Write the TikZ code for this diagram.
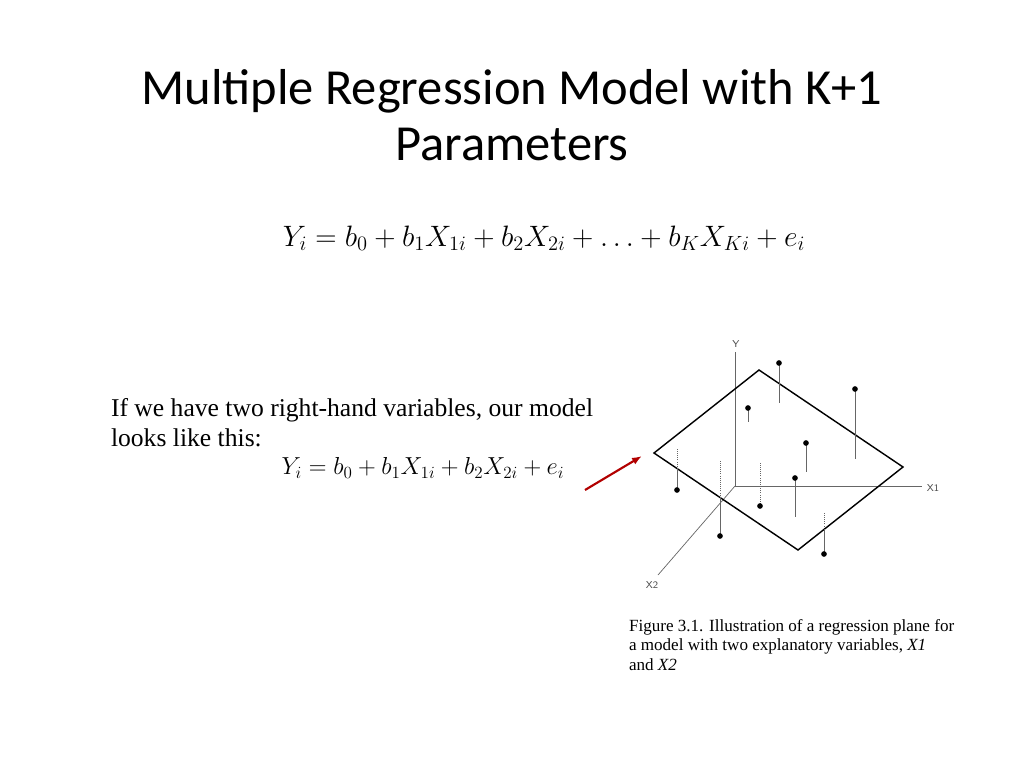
\documentclass[tikz,border=0pt]{standalone}
\usepackage{fontspec}
\setmainfont{Liberation Serif}
\newfontfamily\titlefont{Carlito}
\usepackage{amsmath}
\usetikzlibrary{arrows.meta}

\tikzset{
  stem/.style={draw=black!60, line width=0.5pt},
  hidden/.style={draw=black!60, line width=0.5pt, densely dotted},
  obs/.style={circle, fill=black, inner sep=0pt, minimum size=4pt},
  axislabel/.style={font=\sffamily\fontsize{7}{8}\selectfont, text=black!70}
}

\begin{document}
\begin{tikzpicture}[x=0.703pt, y=-0.703pt]
            \useasboundingbox (0,0) rectangle (1024,768);

            % Title and equations
            \node[align=center, font=\titlefont\fontsize{35.5}{39}\selectfont] (title) at (512,115)
              {Multiple Regression Model with K+1\\Parameters};
            \node[font=\fontsize{21.5}{25}\selectfont] (eqk) at (544,238)
              {$Y_i = b_0 + b_1 X_{1i} + b_2 X_{2i} + \ldots + b_K X_{Ki} + e_i$};
            \node[anchor=west, align=left, font=\fontsize{18}{21}\selectfont] (txt) at (106,423)
              {If we have two right-hand variables, our model\\looks like this:};
            \node[font=\fontsize{17.5}{21}\selectfont] (eq2) at (423,468)
              {$Y_i = b_0 + b_1 X_{1i} + b_2 X_{2i} + e_i$};
            \node[anchor=north west, align=left, font=\fontsize{12}{14}\selectfont] (cap) at (624,614)
              {Figure 3.1. Illustration of a regression plane for\\a model with two explanatory variables, \textit{X1}\\and \textit{X2}};

            % Axes
            \coordinate (o) at (735,486);
            \coordinate (ytip) at (735,352);
            \coordinate (x1tip) at (922,486);
            \coordinate (x2tip) at (658,575);
            \draw[black!60, line width=0.5pt] (o) -- (ytip);
            \draw[black!60, line width=0.5pt] (o) -- (x1tip);
            \draw[black!60, line width=0.5pt] (o) -- (x2tip);
            \node[axislabel] (ylab) at (736,344) {Y};
            \node[axislabel] (x1lab) at (933,488) {X1};
            \node[axislabel] (x2lab) at (652,585) {X2};

            % Observations under the plane
            \draw[hidden] (677,490) -- (677,448);
            \draw[hidden] (720,536) -- (720,460);
            \draw[hidden] (760,506) -- (760,463);
            \draw[hidden] (824,554) -- (824,513);

            % The plane
            \draw[black, line width=1pt] (654,453) -- (759,370) -- (903,467) -- (798,550) -- cycle;

            % Stems
            \draw[stem] (677,490) -- (677,468);
            \draw[stem] (720,536) -- (720,497);
            \draw[stem] (824,554) -- (824,529);
            \draw[stem] (779,363) -- (779,403);
            \draw[stem] (855,389) -- (855,459);
            \draw[stem] (748,408) -- (748,422);
            \draw[stem] (806,443) -- (806,472);
            \draw[stem] (795,478) -- (795,517);

            % Points
            \foreach \px/\py [count=\n] in {779/363, 855/389, 748/408, 806/443, 795/478,
                677/490, 720/536, 760/506, 824/554}
              \node[obs] (p\n) at (\px,\py) {};

            % Arrow to the plane
            \coordinate (arrtail) at (585,490);
            \coordinate (arrhead) at (642,456);
            \draw[-{Latex[length=7pt]}, draw=red!70!black, line width=1.5pt] (arrtail) -- (arrhead);
        \end{tikzpicture}
\end{document}
